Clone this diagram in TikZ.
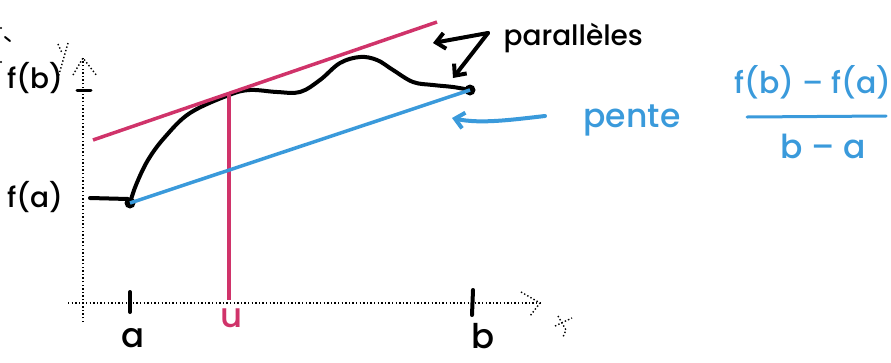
\documentclass[tikz,border=0pt]{standalone}
\usepackage{fontspec}
\setmainfont{Poppins}[UprightFont={* Medium}]
\usetikzlibrary{arrows.meta}
\definecolor{mag}{HTML}{D0336A}
\definecolor{sky}{HTML}{3A9ADB}
\begin{document}
\begin{tikzpicture}[x=1pt,y=-1pt,
  axis/.style={line width=1.4pt,dash pattern=on 1.4pt off 2.2pt},
  ink/.style={line width=4pt,line cap=round,line join=round},
  hand/.style={font=\fontsize{28}{32}\selectfont},
  big/.style={font=\fontsize{34}{36}\selectfont,inner sep=1pt},
  arr/.style={-{Straight Barb[length=9pt,width=16pt]}}]
\useasboundingbox (0,0) rectangle (891,362);
% axes
\coordinate (ybot) at (83,322);
\coordinate (ytop) at (83,58);
\coordinate (xl) at (68,303);
\coordinate (xr) at (540,303);
\draw[axis] (ybot) -- (ytop);
\draw[axis] (73,75) -- (ytop) -- (97,76);
\draw[axis] (xl) -- (xr);
\draw[axis] (521,292) -- (xr) -- (530,316);
% dotted axis letters
\draw[axis] (68,43) -- (56,85);
\draw[axis] (58,44) -- (62,53);
\draw[axis] (555,326) -- (572,318);
\draw[axis] (558,316) -- (566,330) -- (563,337);
% stray marks at top left
\draw[line width=2pt,line cap=round] (5,37) -- (10,41);
\fill (1,28) circle (1.2pt);
\fill (1,62) circle (1.2pt);
% ticks
\draw[ink] (130,292) -- (130,312);
\draw[ink] (473,290) -- (472,315);
\draw[ink,line width=3pt] (77,90) -- (91,90);
% labels
\node[big] (la) at (133,338) {a};
\node[big] (lb) at (483,336) {b};
\node[big,text=mag] (lu) at (232,318) {u};
\node[hand] (lfb) at (35,78) {f(b)};
\node[hand] (lfa) at (35,197) {f(a)};
% curve
\coordinate (A) at (130,203);
\coordinate (U) at (229,95);
\coordinate (B) at (470,90);
\draw[ink] (90,198) -- (128,199);
\draw[ink] plot[smooth,tension=0.6] coordinates {(A) (136,185) (148,160) (165,137) (190,113) (U) (250,90) (277,92) (300,92) (320,80) (340,63) (360,57) (377,60) (393,70) (413,82) (433,85) (453,87) (B)};
\fill (A) circle (5.5pt);
\fill (B) circle (5.5pt);
% magenta tangent and vertical
\coordinate (m1) at (93,140);
\coordinate (m2) at (437,22);
\coordinate (ub) at (229,300);
\draw[mag,line width=3.5pt] (m1) -- (m2);
\draw[mag,line width=3.5pt] (U) -- (ub);
% blue secant
\draw[sky,line width=3.5pt] (A) -- (B);
% parallel arrows
\coordinate (v) at (488,33);
\coordinate (p1) at (433,43);
\coordinate (p2) at (453,78);
\draw[ink,arr] (v) -- (p1);
\draw[ink,arr] (v) -- (p2);
\node[font=\fontsize{28}{32}\selectfont,anchor=west] (par) at (500,38) {parallèles};
% pente arrow
\coordinate (q1) at (545,116);
\coordinate (q2) at (452,118);
\draw[sky,ink,arr] (q1) .. controls (510,120) and (480,124) .. (q2);
\node[text=sky,font=\fontsize{33}{36}\selectfont] (pente) at (632,120) {pente};
% fraction
\node[text=sky,font=\fontsize{30}{32}\selectfont] (num) at (813,82) {f(b) – f(a)};
\node[text=sky,font=\fontsize{33}{36}\selectfont] (den) at (823,146) {b – a};
\draw[sky,line width=3pt,line cap=round] (747,117) -- (886,116);
\end{tikzpicture}
\end{document}
